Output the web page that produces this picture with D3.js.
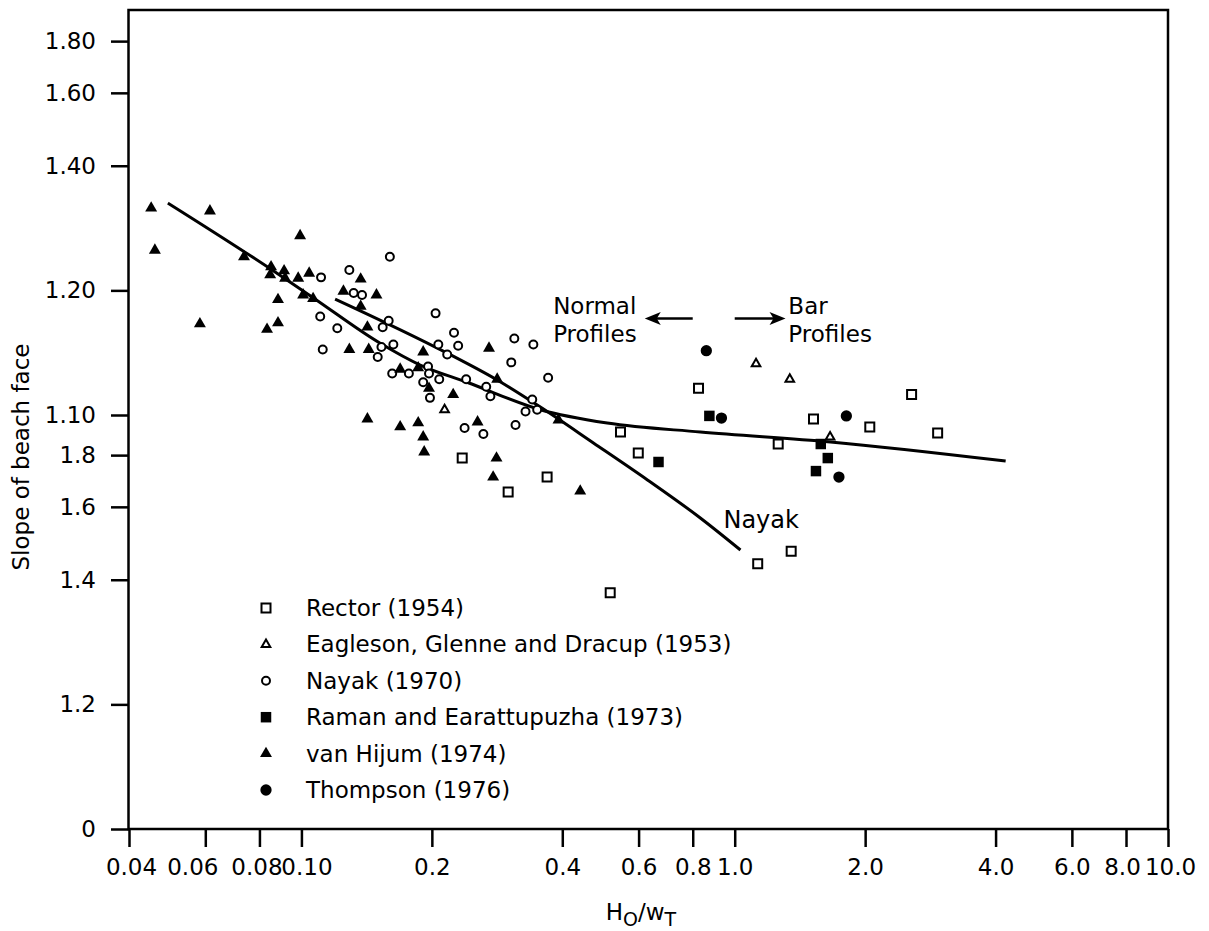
<!DOCTYPE html>
<html>
<head>
<meta charset="utf-8">
<script src="https://cdn.jsdelivr.net/npm/d3@7"></script>
<style>
  body { margin: 0; background: #fff; }
  text { font-family: "DejaVu Sans", sans-serif; fill: #000; }
</style>
</head>
<body>
<script>
const w = 1209
const h = 931

// x: Ho/wT (log), y: beach slope 1:N (log of N)
const xTicks = [0.04, 0.06, 0.08, 0.1, 0.2, 0.4, 0.6, 0.8, 1, 2, 4, 6, 8, 10]
const xTickLabels = ['0.04', '0.06', '0.08', '0.10', '0.2', '0.4', '0.6', '0.8', '1.0', '2.0', '4.0', '6.0', '8.0', '10.0']
const yTicks = [1, 2, 4, 6, 8, 10, 20, 40, 60, 80]
const yTickLabels = ['0', '1.2', '1.4', '1.6', '1.8', '1.10', '1.20', '1.40', '1.60', '1.80']

const seriesNames = ['Rector (1954)', 'Eagleson, Glenne and Dracup (1953)', 'Nayak (1970)',
  'Raman and Earattupuzha (1973)', 'van Hijum (1974)', 'Thompson (1976)']

const rector = [[0.235, 7.87], [0.369, 7.08], [0.300, 6.52], [0.545, 9.10], [0.599, 8.09],
  [0.825, 11.6], [1.52, 9.78], [1.26, 8.51], [2.05, 9.36], [2.56, 11.2], [2.94, 9.05],
  [1.13, 4.37], [1.35, 4.69], [0.516, 3.72]]
const eagleson = [[0.214, 10.3], [1.12, 13.3], [1.34, 12.2], [1.66, 8.85]]
const nayak = [[0.111, 21.5], [0.129, 22.4], [0.160, 24.1], [0.132, 19.7], [0.138, 19.5],
  [0.1105, 17.3], [0.121, 16.2], [0.112, 14.4], [0.159, 16.9], [0.154, 16.3], [0.204, 17.6],
  [0.225, 15.8], [0.230, 14.7], [0.207, 14.8], [0.217, 14.0], [0.163, 14.8], [0.153, 14.6],
  [0.150, 13.8], [0.162, 12.6], [0.177, 12.6], [0.191, 12.0], [0.196, 13.1], [0.197, 12.6],
  [0.208, 12.2], [0.198, 11.0], [0.240, 12.2], [0.267, 11.7], [0.273, 11.1], [0.310, 15.3],
  [0.343, 14.8], [0.305, 13.4], [0.371, 12.3], [0.341, 10.9], [0.329, 10.2], [0.350, 10.3],
  [0.312, 9.46], [0.238, 9.30], [0.263, 9.00]]
const raman = [[0.667, 7.70], [0.874, 9.95], [1.58, 8.51], [1.64, 7.87], [1.54, 7.32]]
const vanHijum = [[0.0450, 31.6], [0.0459, 25.0], [0.0615, 31.1], [0.0993, 27.1], [0.0737, 24.1],
  [0.0851, 22.8], [0.0847, 21.8], [0.0912, 22.3], [0.0917, 21.4], [0.0983, 21.4], [0.1042, 22.0],
  [0.137, 21.3], [0.125, 19.9], [0.149, 19.5], [0.0883, 19.0], [0.1009, 19.5], [0.1064, 19.1],
  [0.0583, 16.6], [0.0833, 16.1], [0.0883, 16.7], [0.137, 18.3], [0.142, 16.3], [0.129, 14.4],
  [0.143, 14.4], [0.142, 9.78], [0.169, 9.36], [0.186, 9.57], [0.169, 12.9], [0.191, 14.2],
  [0.186, 13.0], [0.271, 14.5], [0.283, 12.2], [0.197, 11.6], [0.224, 11.2], [0.255, 9.62],
  [0.191, 8.85], [0.192, 8.14], [0.282, 7.87], [0.277, 7.08], [0.440, 6.55], [0.392, 9.72]]
const thompson = [[0.860, 14.3], [0.932, 9.83], [1.81, 9.95], [1.74, 7.08]]

// fitted curves
const allDataCurve = [[0.0492, 32.5], [0.0856, 22.4], [0.1064, 19.2], [0.152, 14.9], [0.188, 13.2],
  [0.241, 12.0], [0.356, 10.3], [0.508, 9.56], [0.833, 9.10], [1.664, 8.61], [4.22, 7.74]]
const nayakCurve = [[0.1196, 19.06], [0.217, 14.11], [0.283, 12.15], [0.356, 10.45], [0.472, 8.56],
  [0.629, 6.97], [0.833, 5.64], [1.031, 4.72]]

const seriesData = [rector, eagleson, nayak, raman, vanHijum, thompson]
const shapes = [d3.symbolSquare, d3.symbolTriangle, d3.symbolCircle, d3.symbolSquare, d3.symbolTriangle, d3.symbolCircle]
const filled = [false, false, false, true, true, true]
const sizes = [81, 32, 50, 110, 62, 100]

// the printed tick labels sit a little off their ticks
const xLabelShift = [2, -13, -3, 5, 0, 0, 0, 0, 0, 0, 0, 0, -4, 2]

const x = d3.scaleLog().domain([0.04, 10]).range([129, 1168])
const y = d3.scaleLog().domain([1, 100]).range([829, 1])
const plotTop = 10

const svg = d3.select('body').append('svg')
  .attr('width', w)
  .attr('height', h)

// frame
svg.append('rect')
  .attr('x', x(0.04) - 0.5)
  .attr('y', plotTop)
  .attr('width', x(10) - x(0.04) + 0.5)
  .attr('height', y(1) - plotTop)
  .attr('fill', 'none')
  .attr('stroke', '#000')
  .attr('stroke-width', 2.5)

const xAxis = d3.axisBottom(x)
  .tickValues(xTicks)
  .tickFormat((d, i) => xTickLabels[i])
  .tickSize(18)

const yAxis = d3.axisLeft(y)
  .tickValues(yTicks)
  .tickFormat((d, i) => yTickLabels[i])
  .tickSize(18)
  .tickPadding(15)

const $xAxis = svg.append('g')
  .attr('transform', `translate(0, ${y(1)})`)
  .call(xAxis)
$xAxis.select('.domain').remove()
$xAxis.selectAll('line').attr('stroke-width', 2.5)
$xAxis.selectAll('text')
  .attr('y', 46)
  .attr('dy', null)
  .attr('x', (d, i) => xLabelShift[i])
  .attr('font-size', 23)
  .attr('font-family', '"DejaVu Sans", sans-serif')

const $yAxis = svg.append('g')
  .attr('transform', `translate(${x(0.04)}, 0)`)
  .call(yAxis)
$yAxis.select('.domain').remove()
$yAxis.selectAll('line').attr('stroke-width', 2.5)
$yAxis.selectAll('text')
  .attr('font-size', 23)
  .attr('font-family', '"DejaVu Sans", sans-serif')

// axis titles
svg.append('text')
  .attr('transform', 'translate(29, 457) rotate(-90)')
  .attr('text-anchor', 'middle')
  .attr('font-size', 23)
  .text('Slope of beach face')

const xt = svg.append('text')
  .attr('x', 641)
  .attr('y', 920)
  .attr('text-anchor', 'middle')
  .attr('font-size', 23)
xt.append('tspan').text('H')
xt.append('tspan').attr('font-size', 19).attr('dy', 6).text('O')
xt.append('tspan').attr('dy', -6).text('/w')
xt.append('tspan').attr('font-size', 19).attr('dy', 6).text('T')

// curves
const line = d3.line()
  .x(d => x(d[0]))
  .y(d => y(d[1]))
  .curve(d3.curveMonotoneX)

svg.selectAll('path.curve')
  .data([allDataCurve, nayakCurve])
  .enter().append('path')
  .attr('class', 'curve')
  .attr('d', line)
  .attr('fill', 'none')
  .attr('stroke', '#000')
  .attr('stroke-width', 3)

// points
seriesData.forEach((pts, i) => {
  const sym = d3.symbol().type(shapes[i]).size(sizes[i])
  svg.append('g').selectAll('path')
    .data(pts)
    .enter().append('path')
    .attr('transform', d => `translate(${x(d[0])}, ${y(d[1])})`)
    .attr('d', sym)
    .attr('fill', filled[i] ? '#000' : '#fff')
    .attr('stroke', '#000')
    .attr('stroke-width', filled[i] ? 0 : 2)
})

// annotations
const arrowY = 17.1
function arrow (x0, x1) {
  const dir = x1 > x0 ? 1 : -1
  const tx = x(x1)
  const ty = y(arrowY)
  svg.append('line')
    .attr('x1', x(x0)).attr('y1', ty)
    .attr('x2', tx - dir * 10).attr('y2', ty)
    .attr('stroke', '#000')
    .attr('stroke-width', 2.5)
  svg.append('path')
    .attr('d', `M${tx},${ty}L${tx - dir * 16},${ty - 6.5}L${tx - dir * 12},${ty}L${tx - dir * 16},${ty + 6.5}Z`)
    .attr('fill', '#000')
}
arrow(0.80, 0.62)
arrow(1.0, 1.31)

function label (xv, yv, lines, size) {
  const t = svg.append('text')
    .attr('x', x(xv))
    .attr('y', y(yv))
    .attr('font-size', size)
  lines.forEach((s, i) => {
    t.append('tspan').attr('x', x(xv)).attr('dy', i ? 28 : 0).text(s)
  })
}
label(0.381, 17.5, ['Normal', 'Profiles'], 23)
label(1.33, 17.5, ['Bar', 'Profiles'], 23)
label(0.942, 5.33, ['Nayak'], 24)

// legend
const legend = svg.append('g')
seriesNames.forEach((name, i) => {
  const ly = 608 + i * 36.4
  legend.append('path')
    .attr('transform', `translate(266, ${ly})`)
    .attr('d', d3.symbol().type(shapes[i]).size(sizes[i]))
    .attr('fill', filled[i] ? '#000' : '#fff')
    .attr('stroke', '#000')
    .attr('stroke-width', filled[i] ? 0 : 2)
  legend.append('text')
    .attr('x', 306)
    .attr('y', ly + 8)
    .attr('font-size', 23)
    .text(name)
})
</script>
</body>
</html>
